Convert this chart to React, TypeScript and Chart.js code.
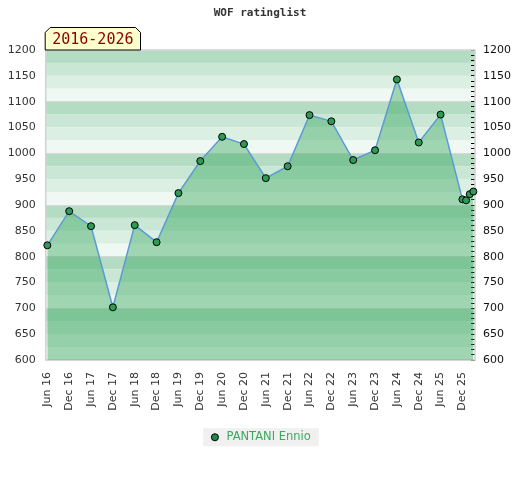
import React, { useEffect, useRef } from "react";
import { Chart, registerables } from "chart.js";

Chart.register(...registerables);

// ---- data ----
const chartTitle = "WOF ratinglist";
const periodLabel = "2016-2026";
const seriesName = "PANTANI Ennio";
// months since Jun 2016
const months = [0, 6, 12, 18, 24, 30, 36, 42, 48, 54, 60, 66, 72, 78, 84, 90, 96, 102, 108, 114, 115, 116, 117];
const ratings = [822, 888, 859, 702, 861, 828, 923, 985, 1032, 1018, 952, 975, 1074, 1062, 987, 1006, 1143, 1021, 1075, 911, 909, 921, 926];
const xTickLabels = [
  "Jun 16", "Dec 16", "Jun 17", "Dec 17", "Jun 18", "Dec 18", "Jun 19", "Dec 19", "Jun 20", "Dec 20",
  "Jun 21", "Dec 21", "Jun 22", "Dec 22", "Jun 23", "Dec 23", "Jun 24", "Dec 24", "Jun 25", "Dec 25",
];
const yMin = 600;
const yMax = 1200;
const xMin = -0.45;
const xMax = 117.45;

const bandColors = ["#b3dcc3", "#c9e7d4", "#dcefe3", "#eff8f2"];

const decorPlugin = {
  id: "decor",
  beforeDraw(chart: any) {
    const { ctx, chartArea: a, scales } = chart;
    const y = scales.y;
    ctx.save();
    for (let v = yMax; v > yMin; v -= 25) {
      const idx = Math.round((yMax - v) / 25) % 4;
      const t = y.getPixelForValue(v);
      const b = y.getPixelForValue(v - 25);
      ctx.fillStyle = bandColors[idx];
      ctx.fillRect(a.left, t, a.right - a.left, b - t);
    }
    const lg = chart.legend;
    if (lg && lg.legendHitBoxes && lg.legendHitBoxes.length) {
      const hb = lg.legendHitBoxes[0];
      const cy = hb.top + hb.height / 2;
      ctx.fillStyle = "#f0f0f0";
      ctx.fillRect(hb.left - 6, cy - 9, hb.width + 14, 18);
    }
    ctx.restore();
  },
  beforeDatasetsDraw(chart: any) {
    const { ctx, chartArea: a } = chart;
    ctx.save();
    ctx.strokeStyle = "#d2d2d2";
    ctx.lineWidth = 1.5;
    ctx.strokeRect(a.left, a.top, a.right - a.left, a.bottom - a.top);
    ctx.restore();
  },
  afterDraw(chart: any) {
    const { ctx, chartArea: a, width } = chart;
    ctx.save();
    ctx.font = 'bold 11px "DejaVu Sans Mono"';
    ctx.fillStyle = "#333";
    ctx.textAlign = "center";
    ctx.textBaseline = "middle";
    ctx.fillText(chartTitle, width / 2, 13);

    const L = a.left - 0.5;
    const R = 140.5;
    const T = 27.5;
    const B = a.top;
    ctx.beginPath();
    ctx.moveTo(L, B);
    ctx.lineTo(L, T + 5);
    ctx.lineTo(L + 5, T);
    ctx.lineTo(R - 5, T);
    ctx.lineTo(R, T + 5);
    ctx.lineTo(R, B);
    ctx.closePath();
    ctx.fillStyle = "#ffffcc";
    ctx.fill();
    ctx.strokeStyle = "#000";
    ctx.lineWidth = 1;
    ctx.stroke();
    ctx.font = '15px "DejaVu Sans Mono"';
    ctx.fillStyle = "#8b0000";
    ctx.textAlign = "center";
    ctx.textBaseline = "middle";
    ctx.fillText(periodLabel, (L + R) / 2, (T + B) / 2 + 1);
    ctx.restore();
  },
};

export default function App() {
  const ref = useRef<HTMLCanvasElement | null>(null);
  useEffect(() => {
    document.body.style.margin = "0";
    Chart.defaults.font.family = "DejaVu Sans";
    const chart = new Chart(ref.current as HTMLCanvasElement, {
      type: "line",
      data: {
        datasets: [
          {
            label: seriesName,
            data: months.map((m, i) => ({ x: m, y: ratings[i] })),
            borderColor: "#5b9bd5",
            borderWidth: 1.5,
            backgroundColor: "rgba(50,165,90,0.42)",
            fill: "start",
            tension: 0,
            pointRadius: 3.5,
            pointBackgroundColor: "#2f9a55",
            pointBorderColor: "#000",
            pointBorderWidth: 1,
            clip: 6,
          } as any,
        ],
      },
      options: {
        animation: false,
        responsive: false,
        layout: { padding: { top: 50, bottom: 27, left: 0, right: 0 } },
        plugins: {
          title: { display: false },
          tooltip: { enabled: false },
          legend: {
            display: true,
            position: "bottom",
            labels: {
              padding: 8,
              usePointStyle: true,
              boxWidth: 11.5,
              boxHeight: 5,
              color: "#3aaa5c",
              font: { size: 11.5, family: "DejaVu Sans" },
              generateLabels: () => [
                {
                  text: seriesName,
                  fillStyle: "#1f8a45",
                  strokeStyle: "#000",
                  lineWidth: 1,
                  pointStyle: "circle",
                  hidden: false,
                  datasetIndex: 0,
                  fontColor: "#3aaa5c",
                } as any,
              ],
            },
          },
        },
        scales: {
          x: {
            type: "linear",
            min: xMin,
            max: xMax,
            grid: { display: false, drawTicks: false },
            border: { display: false },
            ticks: {
              stepSize: 6,
              includeBounds: false,
              autoSkip: false,
              minRotation: 90,
              maxRotation: 90,
              padding: 12,
              color: "#333",
              font: { size: 11 },
              callback: (v: any) => {
                const i = Math.round(Number(v) / 6);
                return xTickLabels[i] ?? "";
              },
            },
            afterFit: (s: any) => {
              s.height = 63.5;
            },
          },
          y: {
            position: "left",
            min: yMin,
            max: yMax,
            grid: {
              display: true,
              drawTicks: false,
              lineWidth: 1,
              color: (c: any) => (c.tick && c.tick.value % 100 === 0 ? "#d8d8d8" : "rgba(0,0,0,0)"),
            },
            border: { display: false },
            ticks: {
              stepSize: 50,
              padding: 10,
              color: "#333",
              font: { size: 11 },
              callback: (v: any) => String(v),
            },
            afterFit: (s: any) => {
              s.width = 45.7;
            },
          },
          y2: {
            position: "right",
            min: yMin,
            max: yMax,
            grid: {
              display: true,
              drawOnChartArea: false,
              drawTicks: true,
              tickLength: -4,
              color: "#000",
              lineWidth: 1,
            },
            border: { display: false },
            ticks: {
              stepSize: 10,
              autoSkip: false,
              padding: 12,
              color: "#111",
              font: { size: 11 },
              callback: (v: any) => (Number(v) % 50 === 0 ? String(v) : ""),
            },
            afterFit: (s: any) => {
              s.width = 45;
            },
          },
        },
      },
      plugins: [decorPlugin],
    });
    return () => chart.destroy();
  }, []);
  return (
    <div style={{ width: 520, height: 480 }}>
      <canvas ref={ref} width={520} height={480} />
    </div>
  );
}
